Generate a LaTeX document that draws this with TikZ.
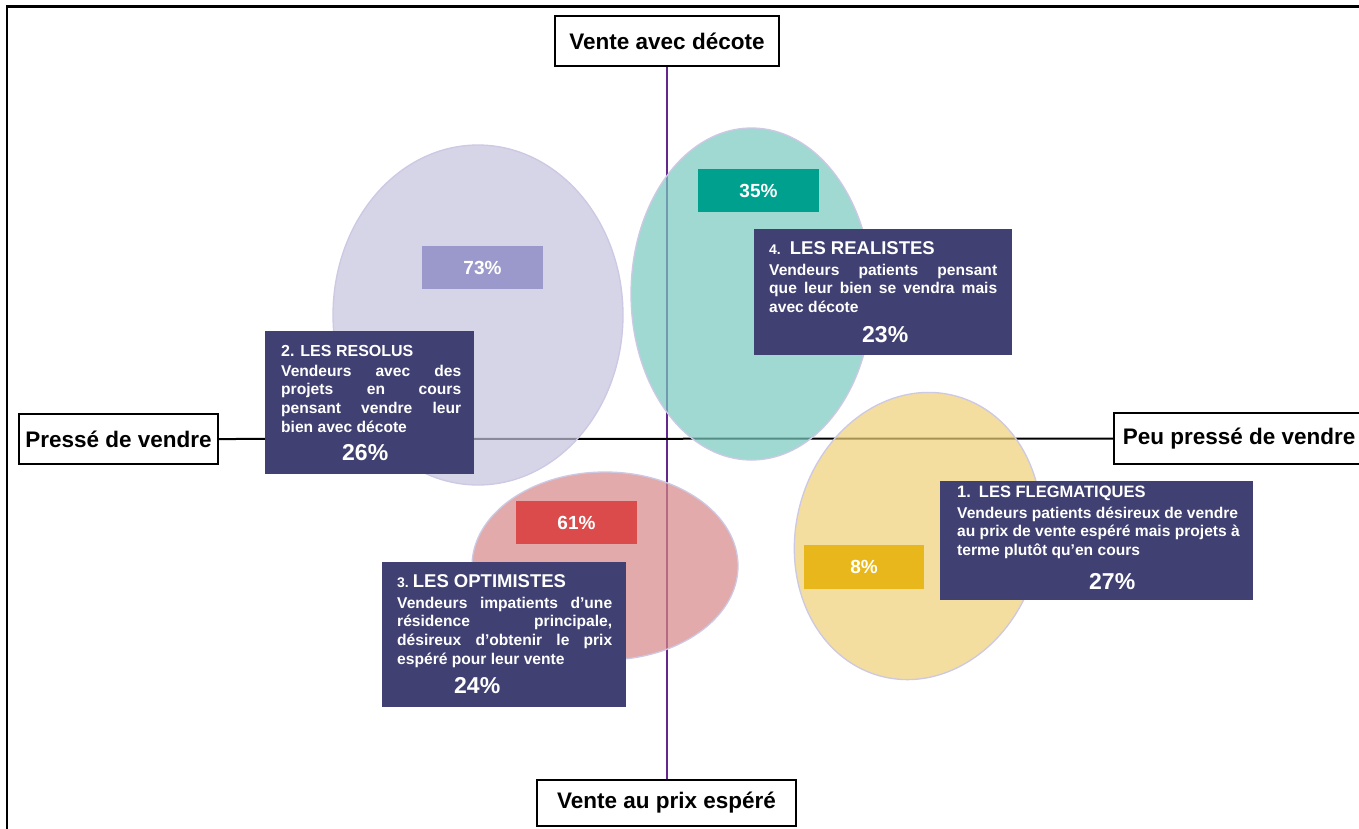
\documentclass[tikz,border=0pt]{standalone}
\usepackage{fontspec}
\setmainfont{Liberation Sans}
\usetikzlibrary{calc}
\setlength\parindent{0pt}
\definecolor{navy}{RGB}{64,64,114}
\definecolor{axispurple}{RGB}{100,40,140}
\definecolor{lavfill}{RGB}{198,194,222}
\definecolor{tealfill}{RGB}{119,201,192}
\definecolor{pinkfill}{RGB}{214,134,134}
\definecolor{yelfill}{RGB}{238,209,119}
\definecolor{bubbleline}{RGB}{205,200,228}
\definecolor{pctlav}{RGB}{155,153,203}
\definecolor{pctteal}{RGB}{0,160,143}
\definecolor{pctred}{RGB}{220,75,75}
\definecolor{pctyel}{RGB}{232,183,28}
\newcommand{\pctfont}{\fontsize{23}{23}\selectfont}
\newcommand{\ttlfont}{\fontsize{18.5}{18.7}\selectfont}
\newcommand{\numfont}{\fontsize{14}{18.7}\selectfont}
\begin{document}
\begin{tikzpicture}[x=1pt,y=-1pt,
  axisbox/.style={draw=black,line width=1.6pt,fill=white,inner sep=0pt,
    font=\fontsize{22.5}{27}\selectfont\bfseries},
  pctbox/.style={minimum width=121pt,minimum height=43pt,inner sep=0pt,
    text=white,font=\fontsize{19}{22}\selectfont\bfseries},
  darkbox/.style={fill=navy,inner sep=0pt},
  desc/.style={anchor=base west,text=white,align=justify,inner sep=0pt,
    font=\fontsize{15.6}{18.7}\selectfont\bfseries},
  bubble/.style={draw=bubbleline,line width=1.3pt,fill opacity=0.7},
  vaxis/.style={draw=axispurple,line width=2.6pt},
  haxis/.style={draw=black,line width=2pt}
]
\useasboundingbox (0,0) rectangle (1359,828);
\fill[white] (0,0) rectangle (1359,828);
\clip (0,0) rectangle (1359,828);
% frame
\draw[line width=2.5pt] (7,830) -- (7,6.5) -- (1362,6.5);

% axis label boxes
\node[axisbox,minimum width=224pt,minimum height=50pt] (top) at (667,41) {Vente avec décote};
\node[axisbox,minimum width=199pt,minimum height=50pt] (left) at (118.5,439) {Pressé de vendre};
\node[axisbox,anchor=west,inner xsep=9pt,minimum height=51pt] (right) at (1113,438.5) {Peu pressé de vendre};
\node[axisbox,minimum width=259pt,minimum height=46pt] (bot) at (666.5,803) {Vente au prix espéré};

% axes
\draw[vaxis] (top.south) -- (top.south |- bot.north);
\draw[haxis] (left.east) -- (right.west);

% bubbles
\filldraw[bubble,fill=lavfill] (478,315) ellipse [x radius=145, y radius=170];
\filldraw[bubble,fill=tealfill] (751.5,294) ellipse [x radius=120.5, y radius=166];
\filldraw[bubble,fill=pinkfill] (605,566) ellipse [x radius=133, y radius=94];
\filldraw[bubble,fill=yelfill,rotate around={-15:(918,536)}] (918,536) ellipse [x radius=122, y radius=145];

% percentage boxes
\node[pctbox,fill=pctlav] (p73) at (482.5,267.5) {73\%};
\node[pctbox,fill=pctteal] (p35) at (758.5,190.5) {35\%};
\node[pctbox,fill=pctred] (p61) at (576.5,522.5) {61\%};
\node[pctbox,fill=pctyel,minimum width=120pt,minimum height=44pt] (p8) at (864,567) {8\%};

% dark boxes
\node[darkbox,minimum width=209pt,minimum height=143pt] (b2) at (369.5,402.5) {};
\node[darkbox,minimum width=258pt,minimum height=126pt] (b4) at (883,292) {};
\node[darkbox,minimum width=244pt,minimum height=145pt] (b3) at (504,634.5) {};
\node[darkbox,minimum width=313pt,minimum height=119pt] (b1) at (1096.5,540.5) {};

\node[desc,text width=180pt] (t2) at (281,356) {%
{\fontsize{16}{18.7}\selectfont 2. LES RESOLUS}\par\vskip1.3pt
Vendeurs avec des\linebreak projets en cours\linebreak pensant vendre leur\linebreak bien avec décote\par\vskip9.3pt
\hbox to\hsize{\hfil\pctfont 26\%\hfil\hskip12pt}};

\node[desc,text width=228pt] (t4) at (769,254) {%
{\numfont 4.}\hskip9pt{\ttlfont LES REALISTES}\par\vskip2.3pt
Vendeurs patients pensant\linebreak que leur bien se vendra mais\linebreak avec décote\par\vskip11.3pt
\hbox to\hsize{\hfil\pctfont 23\%\hfil\hskip-4pt}};

\node[desc,text width=215pt] (t3) at (397,587) {%
{\numfont 3.}\hskip4pt{\ttlfont LES OPTIMISTES}\par\vskip2.3pt
Vendeurs impatients d’une\linebreak résidence principale,\linebreak désireux d’obtenir le prix\linebreak espéré pour leur vente\par\vskip9.3pt
\hbox to\hsize{\hfil\pctfont 24\%\hfil\hskip55pt}};

\node[desc,text width=300pt] (t1) at (957,497) {%
{\fontsize{16.5}{18.7}\selectfont 1.\hskip8pt LES FLEGMATIQUES}\par\vskip2.3pt
Vendeurs patients désireux de vendre\newline au prix de vente espéré mais projets à\newline terme plutôt qu’en cours\par\vskip13.3pt
\hbox to\hsize{\hfil\pctfont 27\%\hfil\hskip-10pt}};
\end{tikzpicture}
\end{document}
